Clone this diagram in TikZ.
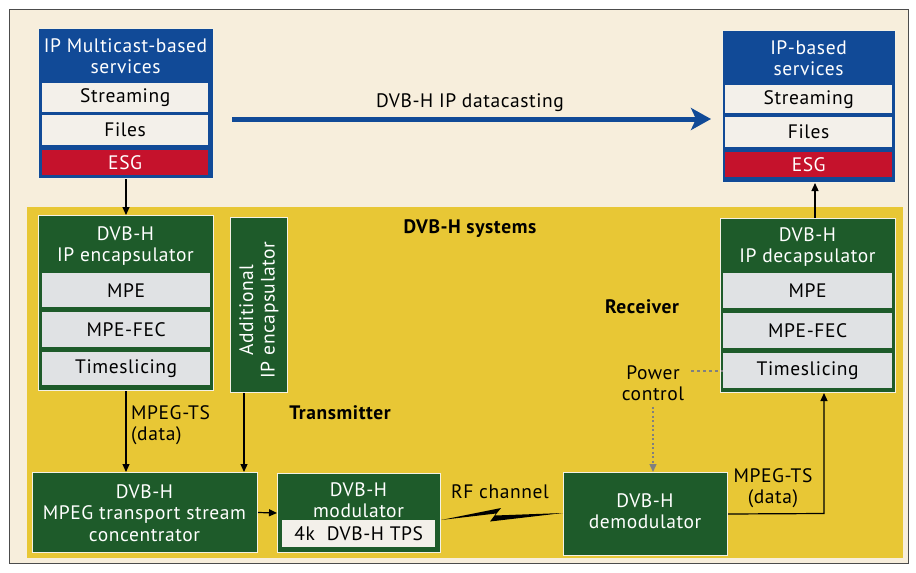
\documentclass[tikz,border=0pt]{standalone}
\usepackage{fontspec}
\setmainfont[LetterSpace=3]{PT Sans}
\usetikzlibrary{arrows.meta}
\definecolor{dvbblue}{HTML}{114A97}
\definecolor{dvbgreen}{HTML}{1E5B2A}
\definecolor{dvbyellow}{HTML}{E8C735}
\definecolor{dvbred}{HTML}{C5122C}
\definecolor{cream}{HTML}{F7EEDC}
\definecolor{rowwhite}{HTML}{F3F0EA}
\definecolor{rowgray}{HTML}{E0E2E4}
\definecolor{edge}{HTML}{F4F1E4}
\tikzset{
  txt/.style={font=\fontsize{19.5}{21.5}\selectfont, inner sep=0pt},
  boxbase/.style={anchor=north west, inner sep=0pt, draw=edge, line width=1pt},
  bluebox/.style={boxbase, fill=dvbblue},
  greenbox/.style={boxbase, fill=dvbgreen},
  rowbase/.style={anchor=north west, inner sep=0pt, txt},
  whiterow/.style={rowbase, fill=rowwhite, text=black},
  grayrow/.style={rowbase, fill=rowgray, text=black},
  esgrow/.style={rowbase, fill=dvbred, text=white},
  title/.style={txt, text=white, align=center},
  heading/.style={font=\bfseries\fontsize{19.5}{21.5}\selectfont, inner sep=0pt},
  lbl/.style={txt, align=center},
  arr/.style={line width=1.2pt, -{Triangle[length=8pt,width=7pt]}},
}
\begin{document}
\begin{tikzpicture}[x=1pt,y=-1pt]
\useasboundingbox (0,0) rectangle (916,573);
% page frame and the yellow system area
\fill[white] (0,0) rectangle (916,573);
\draw[fill=cream, draw=black!70, line width=0.8pt] (9,9) rectangle (908,563);
\fill[dvbyellow] (27,207) rectangle (903,558);

% ---- sending services ----
\node[bluebox, minimum width=175pt, minimum height=150pt] (lbox) at (38,28) {};
\node[title] (ltitle) at (125.5,56) {IP Multicast-based\\services};
\node[whiterow, minimum width=166pt, minimum height=29pt] (lstr) at (42,83) {Streaming};
\node[whiterow, minimum width=166pt, minimum height=30pt] (lfil) at (42,115) {Files};
\node[esgrow, minimum width=166pt, minimum height=25pt] (lesg) at (42,150) {ESG};

% ---- receiving services ----
\node[bluebox, minimum width=173pt, minimum height=152pt] (rbox) at (722,30) {};
\node[title] (rtitle) at (808.5,58) {IP-based\\services};
\node[whiterow, minimum width=167pt, minimum height=28pt] (rstr) at (725,85) {Streaming};
\node[whiterow, minimum width=167pt, minimum height=30pt] (rfil) at (725,117) {Files};
\node[esgrow, minimum width=167pt, minimum height=25pt] (resg) at (725,152) {ESG};

% datacasting arrow
\coordinate (dcA) at (232,119);
\coordinate (dcB) at (711,119);
\draw[dvbblue, line width=5pt, -{Stealth[length=20pt,width=22pt,inset=5pt]}] (dcA) -- (dcB);
\node[txt] (dclbl) at (470,103) {DVB-H IP datacasting};

% ---- headings ----
\node[heading] (sys) at (470,229) {DVB-H systems};
\node[heading] (tx) at (340,413) {Transmitter};
\node[heading] (rx) at (642,307) {Receiver};

% ---- IP encapsulator ----
\node[greenbox, minimum width=175pt, minimum height=175pt] (encap) at (38,215) {};
\node[title] (etitle) at (125.5,246) {DVB-H\\IP encapsulator};
\node[grayrow, minimum width=168pt, minimum height=34pt] (empe) at (42,273) {MPE};
\node[grayrow, minimum width=168pt, minimum height=35pt] (efec) at (42,312) {MPE-FEC};
\node[grayrow, minimum width=168pt, minimum height=33pt] (ets) at (42,352) {Timeslicing};

% ---- additional encapsulator ----
\node[greenbox, minimum width=57pt, minimum height=175pt] (addl) at (230,217) {};
\node[title, rotate=90] (atitle) at (259,310) {Additional\\IP encapsulator};

% ---- IP decapsulator ----
\node[greenbox, minimum width=175pt, minimum height=174pt] (decap) at (720,218) {};
\node[title] (dtitle) at (807.5,247) {DVB-H\\IP decapsulator};
\node[grayrow, minimum width=169pt, minimum height=35pt] (dmpe) at (723,273) {MPE};
\node[grayrow, minimum width=169pt, minimum height=35pt] (dfec) at (723,313) {MPE-FEC};
\node[grayrow, minimum width=169pt, minimum height=35pt] (dts) at (723,353) {Timeslicing};

% ---- bottom chain ----
\node[greenbox, minimum width=225pt, minimum height=80pt] (conc) at (32,472) {};
\node[title] (ctitle) at (144.5,513) {DVB-H\\MPEG transport stream\\concentrator};

\node[greenbox, minimum width=163pt, minimum height=79pt] (mod) at (277,473) {};
\node[title] (mtitle) at (358.5,500) {DVB-H\\modulator};
\node[whiterow, minimum width=153pt, minimum height=27pt] (tps) at (282,520) {4k\hspace{12pt}DVB-H TPS};

\node[greenbox, minimum width=164pt, minimum height=83pt] (demod) at (563,472) {};
\node[title] (dmtitle) at (645,511) {DVB-H\\demodulator};

% ---- labels ----
\node[txt, anchor=west, align=left] (tslbl) at (131,425) {MPEG-TS\\(data)};
\node[lbl] (rflbl) at (500,492) {RF channel};
\node[lbl] (pwr) at (653,383) {Power\\control};
\node[lbl] (tslbl2) at (773,488) {MPEG-TS\\(data)};

% ---- connectors ----
\draw[arr] (lbox.south) -- (encap.north);
\draw[arr] (encap.south) -- (encap.south |- conc.north);
\draw[arr] ([xshift=-15pt]addl.south) -- ([xshift=-15pt]addl.south |- conc.north);
\draw[arr] (conc.east) -- (mod.west);
\coordinate (tsturn) at (824,513.5);
\draw[arr] (demod.east) -- (tsturn) -- (tsturn |- decap.south);
\draw[arr] ([xshift=7pt]decap.north) -- ([xshift=7pt]decap.north |- rbox.south);
\coordinate (pwrdash) at (691,371);
\draw[gray, line width=1.2pt, dash pattern=on 3pt off 3pt] (pwrdash) -- (pwrdash -| dts.west);
\draw[gray, line width=1.4pt, dash pattern=on 2pt off 2.5pt, -{Triangle[length=8pt,width=7pt]}] ([yshift=-6pt]pwr.south) -- (pwr.south |- demod.north);

% RF channel bolt
\fill[black] ([yshift=-7pt]mod.east) -- (501,508) -- (495,515.5) -- ([yshift=1pt]demod.west)
  -- (490,521.5) -- (496,513.5) -- cycle;
\end{tikzpicture}
\end{document}
